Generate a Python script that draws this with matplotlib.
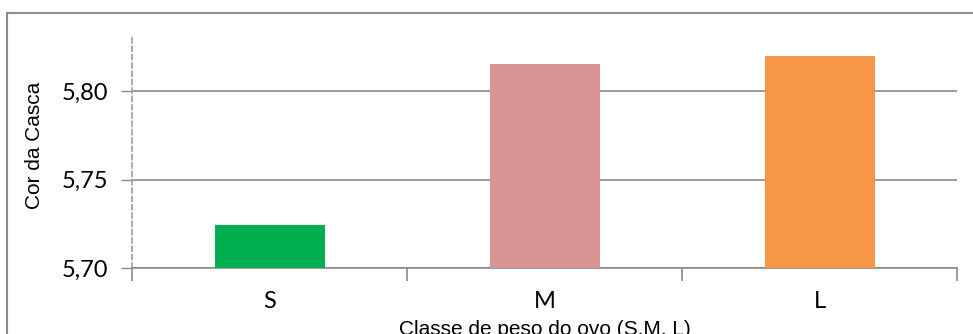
import matplotlib
matplotlib.use("Agg")
import matplotlib.pyplot as plt
from matplotlib.patches import Rectangle
from matplotlib.ticker import FixedLocator, FuncFormatter

# Data
classes = ["S", "M", "L"]
cor_casca = [5.7245, 5.8155, 5.8200]
bar_colors = ["#00B050", "#D99594", "#F79646"]
y_ticks = [5.70, 5.75, 5.80]

# Style
line_gray = "#8A8A8A"
tick_font = "Lato"
label_font = "Liberation Sans"

fig = plt.figure(figsize=(9.73, 3.34), dpi=100)
W, H = 973, 334
ax = fig.add_axes([132 / W, (H - 268.3) / H, (957 - 132) / W, (268.3 - 38) / H])

x = list(range(len(classes)))
ax.bar(x, cor_casca, width=0.4, color=bar_colors, zorder=3)

ax.set_xlim(-0.5, len(classes) - 0.5)
ax.set_ylim(5.70, 5.83)

# y axis
ax.set_yticks(y_ticks)
ax.yaxis.set_major_formatter(FuncFormatter(lambda v, p: f"{v:.2f}".replace(".", ",")))
ax.tick_params(axis="y", length=8, width=1, color=line_gray, pad=9,
               labelsize=17)
for lbl in ax.get_yticklabels():
    lbl.set_fontfamily(tick_font)
ax.grid(axis="y", color=line_gray, linewidth=1.2, zorder=1)

# x axis: ticks at category boundaries, labels centered
ax.xaxis.set_major_locator(FixedLocator([-0.5, 0.5, 1.5, 2.5]))
ax.xaxis.set_major_formatter(FuncFormatter(lambda v, p: ""))
ax.xaxis.set_minor_locator(FixedLocator(x))
ax.set_xticklabels(classes, minor=True)
ax.tick_params(axis="x", which="major", length=9, width=1.2, color=line_gray)
ax.tick_params(axis="x", which="minor", length=0, pad=16, labelsize=17)
for lbl in ax.get_xticklabels(minor=True):
    lbl.set_fontfamily(tick_font)

for side in ["top", "right"]:
    ax.spines[side].set_visible(False)
ax.spines["bottom"].set_color(line_gray)
ax.spines["bottom"].set_linewidth(1.2)
ax.spines["left"].set_color("#A0A0A0")
ax.spines["left"].set_linestyle((0, (3, 2)))
ax.spines["left"].set_linewidth(1.2)

fig.text(35 / W, 1 - 145 / H, "Cor da Casca", rotation=90, ha="center", va="center",
         fontsize=15, family=label_font)
fig.text(544.5 / W, -1 / H, "Classe de peso do ovo (S,M, L)", ha="center", va="baseline",
         fontsize=15, family=label_font)

# chart area border
fig.patches.append(Rectangle((7 / W, -0.1), 1.2, 1 - 13 / H + 0.1, transform=fig.transFigure,
                             fill=False, edgecolor="#8C8C8C", linewidth=1.5))

fig.savefig("out.png", dpi=100, facecolor="white")
